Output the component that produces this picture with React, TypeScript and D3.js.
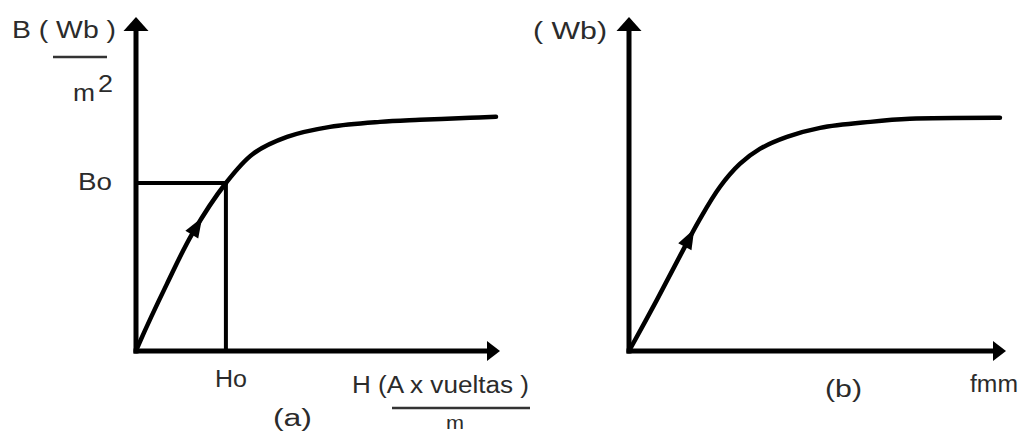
import React, { useEffect, useRef } from "react";
import * as d3 from "d3";

// Magnetisation curve (a): flux density B vs field intensity H
const hValuesA = [0, 0.8, 8.5, 15.4, 24.7, 32.1, 41.5, 53.3, 67.0, 78.0, 91.8, 98.9];
const bValuesA = [0, 2.1, 20.1, 35.0, 50.3, 59.0, 64.1, 67.1, 68.6, 69.2, 69.8, 70.1];
// Operating point
const hOperating = [24.7];
const bOperating = [50.3];

// Curve (b): flux vs magnetomotive force
const fmmValuesB = [0, 7.4, 13.5, 18.8, 24.1, 29.4, 34.7, 41.9, 50.7, 64.0, 74.5, 98.4];
const fluxValuesB = [0, 15.3, 28.4, 39.5, 49.1, 56.0, 60.5, 64.1, 66.8, 68.6, 69.5, 69.8];

// Where along each curve the direction arrow sits (curve value)
const arrowAtA = [40];
const arrowAtB = [36.5];

const W = 1025;
const H = 436;
const INK = "#000";
const TEXT = "#2b2b2b";
const FONT = "'Liberation Sans', Arial, sans-serif";

export default function App() {
  const ref = useRef<SVGSVGElement | null>(null);

  useEffect(() => {
    const svg = d3.select(ref.current);
    svg.selectAll("*").remove();

    const panels = [
      {
        x: d3.scaleLinear().domain([0, 100]).range([136, 500]),
        y: d3.scaleLinear().domain([0, 100]).range([351, 17]),
        xs: hValuesA,
        ys: bValuesA,
        arrowAt: arrowAtA[0],
      },
      {
        x: d3.scaleLinear().domain([0, 100]).range([629, 1006]),
        y: d3.scaleLinear().domain([0, 100]).range([351, 17]),
        xs: fmmValuesB,
        ys: fluxValuesB,
        arrowAt: arrowAtB[0],
      },
    ];

    panels.forEach((p, i) => {
      const g = svg.append("g");
      const x0 = p.x(0);
      const y0 = p.y(0);
      const xEnd = p.x(100);
      const yEnd = p.y(100);

      // axes
      g.append("line")
        .attr("x1", x0).attr("y1", y0 + 2.5)
        .attr("x2", x0).attr("y2", yEnd + 10)
        .attr("stroke", INK).attr("stroke-width", 5);
      g.append("line")
        .attr("x1", x0 - 2.5).attr("y1", y0)
        .attr("x2", xEnd - 8).attr("y2", y0)
        .attr("stroke", INK).attr("stroke-width", 5);
      // axis arrowheads
      g.append("path")
        .attr("d", `M${x0},${yEnd} L${x0 - 12.5},${yEnd + 14} L${x0 + 12.5},${yEnd + 14} Z`)
        .attr("fill", INK);
      g.append("path")
        .attr("d", `M${xEnd},${y0} L${xEnd - 13},${y0 - 10} L${xEnd - 13},${y0 + 10} Z`)
        .attr("fill", INK);

      if (i === 0) {
        const hx = p.x(hOperating[0]);
        const by = p.y(bOperating[0]);
        g.append("line")
          .attr("x1", x0).attr("y1", by)
          .attr("x2", hx + 2).attr("y2", by)
          .attr("stroke", INK).attr("stroke-width", 4);
        g.append("line")
          .attr("x1", hx).attr("y1", by)
          .attr("x2", hx).attr("y2", y0)
          .attr("stroke", INK).attr("stroke-width", 4);
      }

      const pts = p.xs.map((v, k) => [v, p.ys[k]] as [number, number]);
      const line = d3
        .line<[number, number]>()
        .x((d) => p.x(d[0]))
        .y((d) => p.y(d[1]))
        .curve(d3.curveCatmullRom.alpha(0.5));
      const path = g.append("path")
        .attr("d", line(pts) as string)
        .attr("fill", "none")
        .attr("stroke", INK)
        .attr("stroke-width", 4.5)
        .attr("stroke-linecap", "round");

      // direction arrow on the curve
      const node = path.node() as SVGPathElement;
      const total = node.getTotalLength();
      const targetY = p.y(p.arrowAt);
      let lo = 0;
      let hi = total;
      for (let k = 0; k < 40; k++) {
        const mid = (lo + hi) / 2;
        if (node.getPointAtLength(mid).y > targetY) lo = mid;
        else hi = mid;
      }
      const tip = node.getPointAtLength(lo);
      const back = node.getPointAtLength(Math.max(0, lo - 20));
      const dx = tip.x - back.x;
      const dy = tip.y - back.y;
      const len = Math.hypot(dx, dy) || 1;
      const ux = dx / len;
      const uy = dy / len;
      const bx = tip.x - ux * 20;
      const by2 = tip.y - uy * 20;
      const hw = 7.5;
      g.append("path")
        .attr(
          "d",
          `M${tip.x},${tip.y} L${bx - uy * hw},${by2 + ux * hw} L${bx + uy * hw},${by2 - ux * hw} Z`
        )
        .attr("fill", INK);
    });

    // labels
    const label = (
      text: string,
      x: number,
      y: number,
      width: number,
      size = 23
    ) =>
      svg
        .append("text")
        .attr("x", x)
        .attr("y", y)
        .attr("font-family", FONT)
        .attr("font-size", size)
        .attr("fill", TEXT)
        .attr("textLength", width)
        .attr("lengthAdjust", "spacingAndGlyphs")
        .text(text);

    const bar = (x1: number, x2: number, y: number) =>
      svg
        .append("line")
        .attr("x1", x1).attr("x2", x2)
        .attr("y1", y).attr("y2", y)
        .attr("stroke", "#333")
        .attr("stroke-width", 2.5);

    label("B ( Wb )", 12, 38, 104);
    bar(53, 107, 57);
    label("m", 73, 101, 22);
    label("2", 98, 92, 15);
    label("Bo", 78, 190, 34);
    label("Ho", 215, 387, 32);
    label("H (A  x vueltas )", 352, 393, 177);
    bar(392, 530, 408);
    label("m", 446, 429, 18, 18);
    label("(a)", 273, 426, 39);

    label("( Wb)", 533, 39, 74);
    label("(b)", 825, 397, 37);
    label("fmm", 970, 392, 48);
  }, []);

  return (
    <svg
      ref={ref}
      width={W}
      height={H}
      viewBox={`0 0 ${W} ${H}`}
      style={{ position: "absolute", left: 0, top: 0, background: "#fff" }}
    />
  );
}
